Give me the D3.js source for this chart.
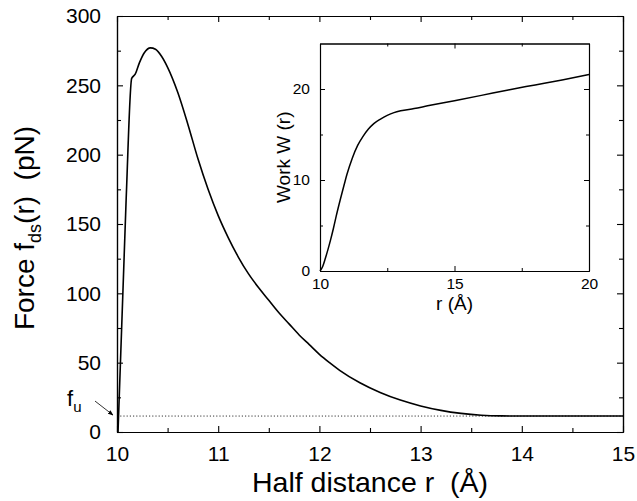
<!DOCTYPE html>
<html>
<head>
<meta charset="utf-8">
<script src="https://cdn.jsdelivr.net/npm/d3@7"></script>
<style>
  html, body { margin: 0; padding: 0; background: #fff; }
  svg { display: block; }
  text { font-family: "Liberation Sans", Arial, Helvetica, sans-serif; fill: #000; }
</style>
</head>
<body>
<svg id="chart" width="637" height="501"></svg>
<script>
// ---- Main panel data: force f_ds(r) in pN vs half distance r (Å)
const forceR = [10.01, 10.09, 10.145, 10.18, 10.22, 10.27, 10.33, 10.38, 10.44, 10.5, 10.6, 10.7, 10.8, 10.9, 11.0, 11.1, 11.2, 11.3, 11.4, 11.5, 11.6, 11.7, 11.8, 11.9, 12.0, 12.1, 12.2, 12.4, 12.6, 12.8, 13.0, 13.2, 13.4, 13.6, 13.8, 14.0, 15.0];
const forceF = [0, 167, 255, 258, 266, 273.5, 277, 276, 271, 263, 245, 222, 197, 175, 156, 140, 126, 114, 104, 95, 86, 78, 70, 63, 56, 50, 44.5, 35.5, 28.5, 23, 18.8, 15.6, 13.4, 12.1, 11.6, 11.5, 11.5];
const fu = 11.5;

const xMajor = [10, 11, 12, 13, 14, 15];
const xMinor = [10.5, 11.5, 12.5, 13.5, 14.5];
const yMajor = [0, 50, 100, 150, 200, 250, 300];
const yMinor = [25, 75, 125, 175, 225, 275];

// ---- Inset data: work W(r) vs r (Å)
const workR = [10, 10.1, 10.2, 10.3, 10.4, 10.5, 10.6, 10.75, 10.9, 11.0, 11.2, 11.4, 11.6, 11.8, 12.0, 12.25, 12.5, 12.75, 13.0, 13.5, 14, 15, 16, 17, 18, 19, 20];
const workW = [0, 0.5, 1.4, 2.4, 3.5, 4.7, 6.0, 7.8, 9.5, 10.6, 12.4, 13.8, 14.8, 15.6, 16.2, 16.7, 17.1, 17.4, 17.6, 17.85, 18.15, 18.72, 19.3, 19.9, 20.45, 21.0, 21.6];
const insetXMajor = [10, 15, 20];
const insetXMinor = [12.5, 17.5];
const insetYMajor = [0, 10, 20];
const insetYMinor = [5, 15];

const svg = d3.select("#chart");

// ================= MAIN PANEL =================
const M = { left: 117, right: 623, top: 16, bottom: 432 };
const x = d3.scaleLinear().domain([10, 15]).range([M.left, M.right]);
const y = d3.scaleLinear().domain([0, 300]).range([M.bottom, M.top]);

const main = svg.append("g");

function styleAxis(g) {
  g.selectAll("path.domain").attr("stroke", "#000").attr("stroke-width", 1.2);
  g.selectAll(".tick line").attr("stroke", "#000").attr("stroke-width", 1.1);
}

// bottom axis
main.append("g").attr("transform", `translate(0,${M.bottom})`)
  .call(d3.axisBottom(x).tickValues(xMajor).tickSize(-6).tickSizeOuter(0).tickPadding(14).tickFormat(d3.format("d")))
  .call(styleAxis)
  .call(g => g.selectAll("text").attr("font-size", 21).attr("font-family", "Liberation Sans, Arial, sans-serif"));
main.append("g").attr("transform", `translate(0,${M.bottom})`)
  .call(d3.axisBottom(x).tickValues(xMinor).tickSize(-4).tickSizeOuter(0).tickFormat(""))
  .call(styleAxis);
// top axis
main.append("g").attr("transform", `translate(0,${M.top})`)
  .call(d3.axisTop(x).tickValues(xMajor).tickSize(-6).tickSizeOuter(0).tickFormat(""))
  .call(styleAxis);
main.append("g").attr("transform", `translate(0,${M.top})`)
  .call(d3.axisTop(x).tickValues(xMinor).tickSize(-4).tickSizeOuter(0).tickFormat(""))
  .call(styleAxis);
// left axis
main.append("g").attr("transform", `translate(${M.left},0)`)
  .call(d3.axisLeft(y).tickValues(yMajor).tickSize(-6).tickSizeOuter(0).tickPadding(16).tickFormat(d3.format("d")))
  .call(styleAxis)
  .call(g => g.selectAll("text").attr("font-size", 21).attr("font-family", "Liberation Sans, Arial, sans-serif"));
main.append("g").attr("transform", `translate(${M.left},0)`)
  .call(d3.axisLeft(y).tickValues(yMinor).tickSize(-4).tickSizeOuter(0).tickFormat(""))
  .call(styleAxis);
// right axis
main.append("g").attr("transform", `translate(${M.right},0)`)
  .call(d3.axisRight(y).tickValues(yMajor).tickSize(-6).tickSizeOuter(0).tickFormat(""))
  .call(styleAxis);
main.append("g").attr("transform", `translate(${M.right},0)`)
  .call(d3.axisRight(y).tickValues(yMinor).tickSize(-4).tickSizeOuter(0).tickFormat(""))
  .call(styleAxis);

// f_u dotted line
main.append("line")
  .attr("x1", x(10)).attr("x2", x(15))
  .attr("y1", y(fu)).attr("y2", y(fu))
  .attr("stroke", "#000").attr("stroke-width", 0.8).attr("stroke-dasharray", "1.2,2");

// force curve
const forceData = forceR.map((r, i) => [r, forceF[i]]);
main.append("path")
  .datum(forceData)
  .attr("fill", "none").attr("stroke", "#000").attr("stroke-width", 1.6)
  .attr("stroke-linejoin", "round")
  .attr("d", d3.line().x(d => x(d[0])).y(d => y(d[1])).curve(d3.curveMonotoneX));

// f_u label + arrow
const defs = svg.append("defs");
defs.append("marker").attr("id", "arrow").attr("viewBox", "0 0 10 10")
  .attr("refX", 9).attr("refY", 5).attr("markerWidth", 7).attr("markerHeight", 7)
  .attr("orient", "auto")
  .append("path").attr("d", "M0,1 L10,5 L0,9 Z").attr("fill", "#000");
main.append("line")
  .attr("x1", x(10) - 22).attr("y1", y(fu) - 15)
  .attr("x2", x(10) - 4).attr("y2", y(fu) - 1)
  .attr("stroke", "#000").attr("stroke-width", 0.8)
  .attr("marker-end", "url(#arrow)");
const fuLabel = main.append("text").attr("x", 67).attr("y", 406).attr("font-size", 22);
fuLabel.append("tspan").text("f");
fuLabel.append("tspan").attr("font-size", 15).attr("dy", 6).text("u");

// axis titles
main.append("text")
  .attr("x", (M.left + M.right) / 2).attr("y", 492)
  .attr("text-anchor", "middle").attr("font-size", 28.5)
  .style("white-space", "pre")
  .text("Half distance r  (Å)");

const yt = main.append("text")
  .attr("transform", `translate(34,${(M.top + M.bottom) / 2 + 4}) rotate(-90)`)
  .attr("text-anchor", "middle").attr("font-size", 28)
  .style("white-space", "pre");
yt.append("tspan").text("Force f");
yt.append("tspan").attr("font-size", 18).attr("dy", 7).text("ds");
yt.append("tspan").attr("dy", -7).text("(r)  (pN)");

// ================= INSET =================
const I = { left: 320, right: 589, top: 43.5, bottom: 271 };
const xi = d3.scaleLinear().domain([10, 20]).range([I.left, I.right]);
const yi = d3.scaleLinear().domain([0, 25]).range([I.bottom, I.top]);
const inset = svg.append("g");

inset.append("rect")
  .attr("x", I.left).attr("y", I.top)
  .attr("width", I.right - I.left).attr("height", I.bottom - I.top)
  .attr("fill", "#fff");

function styleInset(g) {
  g.selectAll("path.domain").attr("stroke", "#000").attr("stroke-width", 1.1);
  g.selectAll(".tick line").attr("stroke", "#000").attr("stroke-width", 1);
}
inset.append("g").attr("transform", `translate(0,${I.bottom})`)
  .call(d3.axisBottom(xi).tickValues(insetXMajor).tickSize(-5).tickSizeOuter(0).tickPadding(7).tickFormat(d3.format("d")))
  .call(styleInset)
  .call(g => g.selectAll("text").attr("font-size", 15.5).attr("font-family", "Liberation Sans, Arial, sans-serif"));
inset.append("g").attr("transform", `translate(0,${I.bottom})`)
  .call(d3.axisBottom(xi).tickValues(insetXMinor).tickSize(-3).tickSizeOuter(0).tickFormat(""))
  .call(styleInset);
inset.append("g").attr("transform", `translate(0,${I.top})`)
  .call(d3.axisTop(xi).tickValues(insetXMajor).tickSize(-5).tickSizeOuter(0).tickFormat(""))
  .call(styleInset);
inset.append("g").attr("transform", `translate(0,${I.top})`)
  .call(d3.axisTop(xi).tickValues(insetXMinor).tickSize(-3).tickSizeOuter(0).tickFormat(""))
  .call(styleInset);
inset.append("g").attr("transform", `translate(${I.left},0)`)
  .call(d3.axisLeft(yi).tickValues(insetYMajor).tickSize(-5).tickSizeOuter(0).tickPadding(10).tickFormat(d3.format("d")))
  .call(styleInset)
  .call(g => g.selectAll("text").attr("font-size", 15.5).attr("font-family", "Liberation Sans, Arial, sans-serif"));
inset.append("g").attr("transform", `translate(${I.left},0)`)
  .call(d3.axisLeft(yi).tickValues(insetYMinor).tickSize(-3).tickSizeOuter(0).tickFormat(""))
  .call(styleInset);
inset.append("g").attr("transform", `translate(${I.right},0)`)
  .call(d3.axisRight(yi).tickValues(insetYMajor).tickSize(-5).tickSizeOuter(0).tickFormat(""))
  .call(styleInset);
inset.append("g").attr("transform", `translate(${I.right},0)`)
  .call(d3.axisRight(yi).tickValues(insetYMinor).tickSize(-3).tickSizeOuter(0).tickFormat(""))
  .call(styleInset);

const workData = workR.map((r, i) => [r, workW[i]]);
inset.append("path")
  .datum(workData)
  .attr("fill", "none").attr("stroke", "#000").attr("stroke-width", 1.5)
  .attr("d", d3.line().x(d => xi(d[0])).y(d => yi(d[1])).curve(d3.curveMonotoneX));

inset.append("text")
  .attr("x", (I.left + I.right) / 2).attr("y", 310)
  .attr("text-anchor", "middle").attr("font-size", 19)
  .text("r (Å)");
inset.append("text")
  .attr("transform", `translate(290,${(I.top + I.bottom) / 2}) rotate(-90)`)
  .attr("text-anchor", "middle").attr("font-size", 19)
  .text("Work W (r)");
</script>
</body>
</html>
